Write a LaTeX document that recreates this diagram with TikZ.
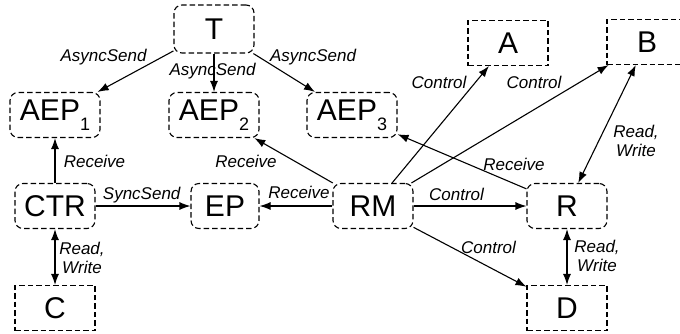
\documentclass[tikz,border=0pt]{standalone}
\usepackage{fontspec}
\setmainfont{Liberation Sans}
\usetikzlibrary{arrows.meta}

\newcommand{\idx}[1]{\raisebox{-10pt}{\fontsize{18}{19}\selectfont #1}}

\tikzset{
    rbox/.style={draw, line width=1.1pt, dash pattern=on 5.5pt off 3pt,
        rounded corners=8pt, minimum height=45pt, inner sep=0pt,
        font=\fontsize{30}{31}\selectfont},
    sbox/.style={rbox, sharp corners},
    lbl/.style={font=\fontsize{17}{19}\selectfont\itshape, inner sep=0pt, align=center},
    conn/.style={line width=1.1pt, -{Latex[length=11pt,width=8pt]}},
    both/.style={line width=1.1pt, {Latex[length=11pt,width=8pt]}-{Latex[length=11pt,width=8pt]}}
}

\begin{document}
\begin{tikzpicture}[x=1pt,y=-1pt]%
        \useasboundingbox (0,0) rectangle (680,333);
        % boxes
        \node[rbox, minimum width=80pt, minimum height=48pt] (T) at (214,29) {T};
        \node[rbox, minimum width=90pt] (AEP1) at (55,115) {AEP\idx{1}};
        \node[rbox, minimum width=90pt] (AEP2) at (214,115) {AEP\idx{2}};
        \node[rbox, minimum width=90pt] (AEP3) at (352,115) {AEP\idx{3}};
        \node[sbox, minimum width=80pt] (A) at (508,43) {A};
        \node[sbox, minimum width=80pt] (B) at (647,42) {B};
        \node[rbox, minimum width=80pt] (CTR) at (55,206) {CTR};
        \node[rbox, minimum width=68pt] (EP) at (225,206) {EP};
        \node[rbox, minimum width=80pt] (RM) at (373,206) {RM};
        \node[rbox, minimum width=80pt] (R) at (567,206) {R};
        \node[sbox, minimum width=80pt] (C) at (55,308) {C};
        \node[sbox, minimum width=80pt] (D) at (567,308) {D};

        % connectors
        \draw[conn] (T) -- (AEP1);
        \draw[conn] (T) -- (AEP2);
        \draw[conn] (T) -- (AEP3);
        \draw[conn] (CTR) -- (AEP1);
        \draw[conn] (CTR) -- (EP);
        \draw[both] (CTR) -- (C);
        \draw[conn] (RM) -- (EP);
        \draw[conn] (RM) -- (AEP2);
        \draw[conn] (RM) -- (A);
        \draw[conn] (RM) -- (B);
        \draw[conn] (RM) -- (R);
        \draw[conn] (RM) -- (D);
        \draw[conn] (R) -- (AEP3);
        \draw[both] (R) -- (B);
        \draw[both] (R) -- (D);

        % labels
        \node[lbl] (sendA) at (103.5,57.5) {AsyncSend};
        \node[lbl] (sendB) at (212.5,71) {AsyncSend};
        \node[lbl] (sendC) at (313,57.5) {AsyncSend};
        \node[lbl] (ctlA) at (439,82) {Control};
        \node[lbl] (ctlB) at (534,82) {Control};
        \node[lbl] (rwB) at (636,141) {Read,\\Write};
        \node[lbl] (rcvC) at (514,164) {Receive};
        \node[lbl] (rcvB) at (246,161) {Receive};
        \node[lbl] (rcvA) at (94.5,161) {Receive};
        \node[lbl] (sync) at (141.7,195) {SyncSend};
        \node[lbl] (rcvEP) at (299,192.5) {Receive};
        \node[lbl] (rwC) at (82,257.5) {Read,\\Write};
        \node[lbl] (ctlR) at (456.5,194) {Control};
        \node[lbl] (ctlD) at (488.5,247.5) {Control};
        \node[lbl] (rwD) at (597,256) {Read,\\Write};
\end{tikzpicture}
\end{document}
